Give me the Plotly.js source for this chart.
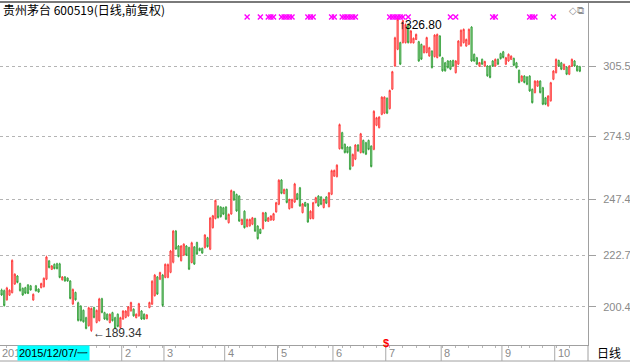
<!DOCTYPE html>
<html><head><meta charset="utf-8">
<script src="https://cdn.plot.ly/plotly-3.0.1.min.js"></script>
<style>html,body{margin:0;padding:0;background:#fff;}#chart{width:630px;height:362px;}</style>
</head><body><div id="chart"></div>
<script>
// ---- trading calendar (categories) ----
const monthKeys = ["2015-11","2015-12","2016-01","2016-02","2016-03","2016-04","2016-05","2016-06","2016-07","2016-08","2016-09","2016-10"];
const monthDays = [
 [26,27,30],
 [1,2,3,4,7,8,9,10,11,14,15,16,17,18,21,22,23,24,25,28,29,30,31],
 [4,5,6,7,8,11,12,13,14,15,18,19,20,21,22,25,26,27,28,29],
 [1,2,3,4,5,15,16,17,18,19,22,23,24,25,26,29],
 [1,2,3,4,7,8,9,10,11,14,15,16,17,18,21,22,23,24,25,28,29,30,31],
 [1,5,6,7,8,11,12,13,14,15,18,19,20,21,22,25,26,27,28,29],
 [3,4,5,6,9,10,11,12,13,16,17,18,19,20,23,24,25,26,27,30,31],
 [1,2,3,6,7,8,13,14,15,16,17,20,21,22,23,24,27,28,29,30],
 [1,4,5,6,7,8,11,12,13,14,15,18,19,20,21,22,25,26,27,28,29],
 [1,2,3,4,5,8,9,10,11,12,15,16,17,18,19,22,23,24,25,26,29,30,31],
 [1,2,5,6,7,8,9,12,13,14,19,20,21,22,23,26,27,28,29,30],
 [10,11,12,13,14,17,18,19,20,21]
];
const dates = [];
monthKeys.forEach((m,k)=>monthDays[k].forEach(d=>dates.push(m+"-"+String(d).padStart(2,"0"))));

// ---- OHLC (forward-adjusted) ----
const open = [207.7,207.4,203.4,205.4,206.5,210.3,213.8,210.5,208.4,208.7,
209.9,209.5,203.3,209.5,208.1,208.7,209.1,212.4,220.4,216.7,
218.9,219.2,219.1,212.1,213.4,212.9,211.6,201.6,206.6,202.1,
200.6,198.8,195.6,192.1,190.0,200.0,193.5,194.3,203.9,197.8,
197.1,193.5,197.8,195.6,197.1,191.3,195.0,195.7,196.4,198.6,
199.3,195.6,196.4,198.5,197.1,195.2,200.0,201.5,205.2,213.4,
212.4,214.2,213.2,213.2,215.4,219.8,233.4,226.9,220.5,222.9,
226.9,226.2,219.7,226.5,228.4,225.9,225.9,226.2,230.5,225.5,
234.9,238.9,244.3,243.9,243.6,243.9,237.1,240.9,250.6,249.4,
248.7,236.3,242.1,235.4,235.7,236.4,238.9,235.6,234.2,234.5,
241.4,237.7,238.2,238.2,241.8,245.1,255.7,249.8,251.6,243.2,
243.7,246.1,249.7,252.3,241.5,245.9,245.3,238.9,238.9,245.8,
248.7,248.3,243.7,248.3,244.1,249.5,257.4,257.2,269.4,276.4,
271.3,270.1,270.1,261.9,264.8,271.0,267.7,273.0,272.0,273.0,
270.5,269.1,279.6,278.6,284.4,284.9,291.4,286.9,295.4,305.5,
312.8,315.7,315.7,315.7,323.7,315.7,315.6,317.1,316.1,314.9,
311.3,311.4,309.9,312.0,309.6,309.2,318.6,309.1,306.9,307.7,
307.7,307.9,302.6,306.3,314.3,315.7,314.2,315.0,322.5,310.6,
309.1,305.4,308.4,305.4,305.5,305.5,307.7,305.5,308.4,310.9,
311.7,306.3,307.7,308.4,308.8,306.9,303.6,298.9,301.1,300.7,
301.1,295.3,293.9,296.7,298.9,296.0,291.6,288.1,290.3,299.7,
302.6,307.9,306.9,304.0,305.0,301.9,305.5,307.7,305.5,305.2];
const close = [205.5,200.9,208.6,207.6,220.6,214.6,211.0,207.4,205.5,206.3,
206.2,207.7,205.8,207.3,206.8,210.5,212.8,222.1,217.5,218.2,
217.0,217.0,213.2,213.4,211.6,211.6,204.0,207.9,203.4,194.4,
194.3,193.8,190.9,199.9,199.6,195.7,198.8,203.8,197.9,195.0,
194.7,197.1,194.3,190.9,191.8,195.6,198.5,198.5,200.3,202.2,
196.4,197.1,201.7,195.0,195.0,196.8,202.2,211.5,214.2,205.9,
215.3,200.9,218.9,218.8,224.7,233.4,225.6,222.3,226.9,227.7,
222.9,216.8,228.3,219.0,223.4,224.9,223.8,231.7,226.6,239.1,
240.1,246.8,239.3,239.7,240.8,238.6,240.7,251.1,247.0,242.2,
237.8,238.5,234.9,238.5,238.5,239.2,233.4,230.1,232.4,241.4,
237.8,239.2,240.0,241.0,245.8,255.6,249.9,251.6,245.9,247.2,
247.2,254.0,247.3,244.4,245.3,244.3,237.4,242.1,245.8,248.0,
244.4,245.1,247.2,245.6,250.1,259.8,259.9,262.2,279.9,269.4,
267.7,267.7,260.4,266.9,271.0,268.4,275.9,267.7,267.0,269.1,
261.6,285.7,282.9,283.2,291.9,291.9,284.9,294.8,303.0,317.8,
325.9,306.3,325.3,323.6,315.7,320.8,317.6,319.3,307.7,308.5,
314.2,317.9,313.5,304.8,319.0,319.3,309.9,303.4,303.4,304.8,
304.1,305.5,307.7,316.4,321.1,321.5,317.1,321.5,307.7,307.7,
306.3,307.0,306.3,307.5,301.2,300.5,305.5,308.4,306.3,308.7,
309.2,309.1,310.6,309.8,305.8,304.8,298.3,301.1,298.3,297.5,
294.6,289.5,298.9,298.9,293.9,288.8,288.8,292.4,298.2,303.3,
308.4,305.5,304.1,306.2,301.9,305.5,308.4,305.5,303.4,303.2];
const high = [208.3,207.9,209.1,208.0,221.1,215.0,214.2,210.9,208.8,209.1,
210.3,209.9,206.2,209.9,208.4,210.9,213.2,222.7,220.8,218.6,
219.3,219.6,219.6,213.8,213.8,213.2,212.0,208.4,207.0,202.6,
201.1,199.2,196.0,200.4,200.1,200.4,199.2,204.3,204.3,198.2,
197.5,197.5,198.2,196.0,197.5,196.0,198.9,198.9,200.7,202.6,
199.7,197.5,202.1,198.9,197.5,197.2,202.6,212.0,214.7,213.8,
215.7,214.7,219.3,219.3,225.2,233.9,233.9,227.3,227.3,228.1,
227.3,226.6,228.8,226.9,228.8,226.2,226.2,232.1,230.9,239.6,
240.5,247.2,244.7,244.3,244.0,244.3,241.1,251.6,251.0,249.8,
249.1,238.9,242.5,238.9,238.9,239.6,239.3,236.0,234.5,241.8,
241.8,239.6,240.4,241.4,246.2,256.1,256.1,252.0,252.0,247.6,
247.6,254.5,250.1,252.7,245.7,246.2,245.7,242.5,246.2,248.4,
249.1,248.7,247.6,248.7,250.5,260.3,260.3,262.6,280.4,276.8,
271.7,270.5,270.5,267.3,271.4,271.4,276.3,273.4,272.4,273.4,
270.9,286.2,283.3,283.6,292.3,292.3,291.8,295.2,303.4,318.3,
326.8,316.1,325.8,324.1,324.1,321.2,318.0,319.7,316.5,315.3,
314.6,318.3,313.9,312.4,319.4,319.7,319.0,309.5,307.3,308.1,
308.1,308.3,308.1,316.8,321.5,321.9,317.5,321.9,322.9,311.0,
309.5,307.3,308.8,307.8,305.9,305.9,308.1,308.8,308.8,311.3,
312.1,309.5,311.0,310.2,309.2,307.3,304.0,301.5,301.5,301.1,
301.5,295.7,299.3,299.3,299.3,296.4,292.0,292.8,298.6,303.7,
308.8,308.3,307.3,306.6,305.4,305.9,308.8,308.1,305.9,305.6];
const low = [205.1,200.4,203.0,205.1,206.2,209.9,210.6,207.0,205.1,205.9,
205.9,207.4,203.0,207.0,206.5,208.4,208.8,212.0,217.1,216.4,
216.7,216.7,212.8,211.8,211.3,211.3,203.6,201.1,203.0,193.9,
193.9,193.4,190.5,191.7,189.34,195.3,193.1,193.9,197.5,194.6,
194.3,193.1,193.9,190.5,191.4,190.9,194.6,195.3,196.0,198.2,
196.0,195.3,196.0,194.6,194.6,194.9,199.7,201.1,204.8,205.5,
212.0,200.4,212.8,212.8,215.0,219.3,225.2,221.9,220.1,222.5,
222.5,216.4,219.3,218.6,223.0,224.6,223.5,225.8,226.2,225.1,
234.5,238.5,238.9,239.3,240.4,238.2,236.7,240.5,246.6,241.8,
237.4,236.0,234.5,235.0,235.3,236.0,233.0,229.7,232.1,234.1,
237.4,237.4,237.9,237.9,241.4,244.7,249.5,249.5,245.5,242.8,
243.3,245.7,246.9,244.0,241.1,244.0,237.0,238.5,238.5,245.5,
244.0,244.7,243.3,245.2,243.7,249.1,257.1,256.8,269.0,269.0,
267.3,267.3,260.0,261.5,264.4,268.0,267.3,267.3,266.6,268.7,
261.2,268.7,279.2,278.2,284.0,284.5,284.5,286.5,295.0,305.1,
312.4,305.9,315.3,315.3,315.3,315.3,315.3,316.8,307.3,308.1,
311.0,311.0,309.5,304.4,309.2,308.8,309.5,303.0,303.0,304.4,
303.7,305.1,302.2,305.9,313.9,315.3,313.9,314.6,307.3,307.3,
305.9,305.1,305.9,305.1,300.8,300.1,305.1,305.1,305.9,308.3,
308.8,305.9,307.3,308.1,305.4,304.4,297.9,298.6,297.9,297.1,
294.2,289.1,293.5,296.4,293.5,288.4,288.4,287.7,289.9,299.3,
302.2,305.1,303.7,303.7,301.5,301.5,305.1,305.1,303.0,302.8];

// ---- axis labels ----
const yTicks = [200.4, 222.7, 247.4, 274.9, 305.5];
const yTickText = ["200.4","222.7","247.4","274.9","305.5"];
const monthStarts = ["2016-01-04","2016-02-01","2016-03-01","2016-04-01","2016-05-03","2016-06-01","2016-07-01","2016-08-01","2016-09-01","2016-10-10"];
const monthLabels = ["","2","3","4","5","6","7","8","9","10"];
const yearLabel = "201";
// ---- signal marks (magenta x) ----
const signalDates = ["2016-04-14","2016-04-21","2016-04-26","2016-04-27","2016-04-28",
 "2016-05-04","2016-05-05","2016-05-06","2016-05-09","2016-05-10",
 "2016-05-18","2016-05-19","2016-05-20","2016-05-31","2016-06-01",
 "2016-06-06","2016-06-07","2016-06-08","2016-06-13","2016-06-14","2016-06-15",
 "2016-07-04","2016-07-05","2016-07-06","2016-07-07","2016-07-08","2016-07-11","2016-07-13",
 "2016-08-04","2016-08-08","2016-08-26","2016-08-29",
 "2016-09-19","2016-09-20","2016-09-21","2016-09-30"];
const highDate = "2016-07-07", highVal = 326.80;
const lowDate = "2016-01-14", lowVal = 189.34;
const cursorDate = "2015-12-07", cursorText = "2015/12/07/一";
const dividendDate = "2016-07-01";

// ---- geometry ----
const W = 630, H = 362, ML = 0, MR = 42, MT = 2, MB = 17;
const plotW = W - ML - MR, plotH = H - MT - MB;
const bandBottom = -(MB - 1) / plotH;
const bandMid = bandBottom / 2;

const weekStarts = dates.filter((d, i) => {
  if (i === 0) return false;
  const a = new Date(dates[i-1] + "T00:00:00Z"), b = new Date(d + "T00:00:00Z");
  return b.getUTCDay() < a.getUTCDay() || (b - a) > 6 * 864e5;
});

const traces = [
  {
    type: "candlestick", x: dates, open: open, high: high, low: low, close: close,
    increasing: { line: { color: "#ff3030", width: 0.8 }, fillcolor: "#ff9a9a" },
    decreasing: { line: { color: "#2a9a30", width: 0.8 }, fillcolor: "#94d094" },
    whiskerwidth: 0, hoverinfo: "skip"
  },
  {
    type: "scatter", mode: "markers", x: signalDates, y: signalDates.map(() => 326.9),
    marker: { symbol: "x-thin", size: 5, color: "#ff00ff", line: { color: "#ff00ff", width: 1.4 } },
    cliponaxis: false, hoverinfo: "skip"
  }
];

const shapes = [
  { type: "line", xref: "paper", yref: "paper", x0: 0, x1: W / plotW, y0: 1, y1: 1, line: { color: "#7a7a7a", width: 2 } },
  { type: "line", xref: "paper", yref: "paper", x0: 0, x1: W / plotW, y0: bandBottom, y1: bandBottom, line: { color: "#a0a0a0", width: 1 } },
  { type: "line", xref: "paper", yref: "paper", x0: 1, x1: 1, y0: bandBottom, y1: 0, line: { color: "#a0a0a0", width: 1 } }
];
monthStarts.forEach((d) => {
  const k = dates.indexOf(d) - 0.5;
  shapes.push({ type: "line", xref: "x", yref: "paper", x0: k, x1: k, y0: bandBottom, y1: 0, line: { color: "#a8a8a8", width: 1 } });
});

const lab = { family: "Liberation Sans, Arial, sans-serif", size: 11, color: "#8a8a8a" };
const annotations = [
  { xref: "paper", yref: "paper", x: 0, y: 1, xanchor: "left", yanchor: "middle", xshift: 1, yshift: -7,
    text: "贵州茅台 600519(日线,前复权)", showarrow: false,
    font: { family: "Noto Sans CJK SC, sans-serif", size: 12, color: "#000" } },
  { xref: "paper", yref: "paper", x: 576 / plotW, y: 1, xanchor: "center", yanchor: "middle", yshift: -8,
    text: "◇⧉", showarrow: false, font: { family: "DejaVu Sans, sans-serif", size: 10, color: "#909090" } },
  { xref: "x", yref: "y", x: highDate, y: highVal, xanchor: "left", yanchor: "top", yshift: 1, xshift: -1,
    text: "↑326.80", showarrow: false, font: { family: "Liberation Sans, Arial, sans-serif", size: 12, color: "#000" } },
  { xref: "x", yref: "y", x: lowDate, y: lowVal, xanchor: "left", yanchor: "middle", xshift: 0, yshift: -1,
    text: "←189.34", showarrow: false, font: { family: "Liberation Sans, Arial, sans-serif", size: 12, color: "#333" } },
  { xref: "paper", yref: "paper", x: 0, y: bandMid, xanchor: "left", yanchor: "middle", xshift: 0,
    text: yearLabel, showarrow: false, font: lab },
  { xref: "paper", yref: "paper", x: 609 / plotW, y: bandMid, xanchor: "center", yanchor: "middle",
    text: "日线", showarrow: false, font: { family: "Noto Sans CJK SC, sans-serif", size: 12, color: "#000" } },
  { xref: "x", yref: "paper", x: dates.indexOf(dividendDate) - 0.4, y: 0, xanchor: "center", yanchor: "middle", yshift: 2,
    text: "<b>$</b>", showarrow: false, font: { family: "Liberation Sans, Arial, sans-serif", size: 11, color: "#ff0000" } }
];
monthStarts.forEach((d, j) => {
  if (!monthLabels[j]) return;
  annotations.push({ xref: "x", yref: "paper", x: dates.indexOf(d) - 0.5, y: bandMid, xanchor: "left", yanchor: "middle", xshift: 1,
    text: monthLabels[j], showarrow: false, font: lab });
});
annotations.push({ xref: "x", yref: "paper", x: dates.indexOf(cursorDate), y: bandMid, xanchor: "left", yanchor: "middle", xshift: -3,
  text: cursorText, showarrow: false, bgcolor: "#00ffff", borderpad: 1,
  font: { family: "Liberation Sans, Arial, sans-serif", size: 11, color: "#000" } });

const layout = {
  width: W, height: H, margin: { l: ML, r: MR, t: MT, b: MB },
  paper_bgcolor: "#ffffff", plot_bgcolor: "#ffffff", showlegend: false, hovermode: false,
  xaxis: {
    type: "category", range: [-0.6, 222.1], rangeslider: { visible: false },
    showgrid: false, zeroline: false, showline: true, linecolor: "#a0a0a0", linewidth: 1,
    ticks: "outside", ticklen: 2, tickcolor: "#b8b8b8", tickvals: weekStarts, showticklabels: false, fixedrange: true
  },
  yaxis: {
    side: "right", range: [183.67, 333.45], tickmode: "array", tickvals: yTicks, ticktext: yTickText,
    showgrid: true, gridcolor: "#b4b4b4", griddash: "dot", gridwidth: 1, zeroline: false,
    showline: true, linecolor: "#a0a0a0", linewidth: 1, ticks: "outside", ticklen: 7, tickcolor: "#a0a0a0",
    ticklabelstandoff: 5, tickfont: { family: "Liberation Sans, Arial, sans-serif", size: 11, color: "#8a8a8a" }, fixedrange: true
  },
  shapes: shapes, annotations: annotations
};

Plotly.newPlot("chart", traces, layout, { displayModeBar: false, staticPlot: true });
</script></body></html>
